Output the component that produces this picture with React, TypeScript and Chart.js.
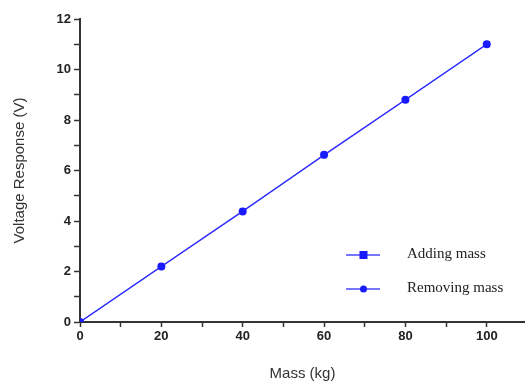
import React, { useEffect, useRef } from "react";
import { Chart, registerables } from "chart.js";

Chart.register(...registerables);

const massKg = [0, 20, 40, 60, 80, 100];
const addingMass = [0, 2.2, 4.4, 6.6, 8.8, 11.0];
const removingMass = [0, 2.2, 4.38, 6.62, 8.8, 11.0];
const xTickValues = [0, 10, 20, 30, 40, 50, 60, 70, 80, 90, 100];
const xLabelValues = [0, 20, 40, 60, 80, 100];
const seriesNames = ["Adding mass", "Removing mass"];
const xTitle = "Mass (kg)";
const yTitle = "Voltage Response (V)";

const BLUE = "#1a1aff";
const LINE = "rgba(40,40,255,0.85)";
const AXIS = "#333333";

const legendPlugin = {
  id: "insideLegend",
  afterDraw(chart: any) {
    const ctx = chart.ctx;
    const area = chart.chartArea;
    const x0 = area.left + 266;
    const ys = [area.bottom - 67, area.bottom - 33];
    const styles = ["rect", "circle"];
    ctx.save();
    for (let i = 0; i < seriesNames.length; i++) {
      const y = ys[i];
      ctx.strokeStyle = LINE;
      ctx.lineWidth = 1.5;
      ctx.beginPath();
      ctx.moveTo(x0, y);
      ctx.lineTo(x0 + 34, y);
      ctx.stroke();
      ctx.fillStyle = BLUE;
      if (styles[i] === "rect") {
        ctx.fillRect(x0 + 13.5, y - 4, 8, 8);
      } else {
        ctx.beginPath();
        ctx.arc(x0 + 17.5, y, 3.5, 0, Math.PI * 2);
        ctx.fill();
      }
      ctx.fillStyle = "#222";
      ctx.font = '15px "Liberation Serif", "Times New Roman", serif';
      ctx.textBaseline = "middle";
      ctx.textAlign = "left";
      ctx.fillText(seriesNames[i], x0 + 61, y - 1);
    }
    ctx.restore();
  },
};

export default function App() {
  const ref = useRef<HTMLCanvasElement>(null);
  useEffect(() => {
    document.body.style.margin = "0";
    const chart = new Chart(ref.current!, {
      type: "line",
      data: {
        labels: massKg,
        datasets: [
          {
            label: seriesNames[0],
            data: massKg.map((m, i) => ({ x: m, y: addingMass[i] })),
            borderColor: LINE,
            backgroundColor: BLUE,
            borderWidth: 1.2,
            pointStyle: "rect",
            pointRadius: 4,
            pointBorderWidth: 0,
          },
          {
            label: seriesNames[1],
            data: massKg.map((m, i) => ({ x: m, y: removingMass[i] })),
            borderColor: LINE,
            backgroundColor: BLUE,
            borderWidth: 1.2,
            pointStyle: "circle",
            pointRadius: 4,
            pointBorderWidth: 0,
          },
        ],
      },
      options: {
        animation: false,
        responsive: false,
        maintainAspectRatio: false,
        layout: { padding: { top: 19, right: 0, left: 0, bottom: 0 } },
        plugins: { legend: { display: false }, tooltip: { enabled: false } },
        scales: {
          x: {
            type: "linear",
            min: 0,
            max: 109.4,
            afterBuildTicks: (axis: any) => {
              axis.ticks = xTickValues.map((v) => ({ value: v }));
            },
            afterFit: (axis: any) => {
              axis.height = 61;
            },
            ticks: {
              autoSkip: false,
              maxRotation: 0,
              padding: 2,
              color: "#222",
              font: { family: "Liberation Sans, Arial, sans-serif", size: 13, weight: "bold" },
              callback: (v: any) => (xLabelValues.includes(Number(v)) ? String(v) : ""),
            },
            grid: { display: true, drawOnChartArea: false, drawTicks: true, tickLength: 5, tickColor: AXIS, tickWidth: 1.5 },
            border: { display: true, color: AXIS, width: 2 },
            title: {
              display: true,
              text: xTitle,
              color: "#333",
              font: { family: "Liberation Sans, Arial, sans-serif", size: 15 },
              padding: { top: 12, bottom: 0 },
            },
          },
          y: {
            type: "linear",
            min: 0,
            max: 12,
            afterFit: (axis: any) => {
              axis.width = 80;
            },
            ticks: {
              stepSize: 1,
              autoSkip: false,
              padding: 3,
              color: "#222",
              font: { family: "Liberation Sans, Arial, sans-serif", size: 13, weight: "bold" },
              callback: (v: any) => (Number(v) % 2 === 0 ? String(v) : ""),
            },
            grid: { display: true, drawOnChartArea: false, drawTicks: true, tickLength: 6, tickColor: AXIS, tickWidth: 1.5 },
            border: { display: true, color: AXIS, width: 2 },
            title: {
              display: true,
              text: yTitle,
              color: "#333",
              font: { family: "Liberation Sans, Arial, sans-serif", size: 15 },
              padding: { top: 11, bottom: 4 },
            },
          },
        },
      },
      plugins: [legendPlugin],
    } as any);
    return () => chart.destroy();
  }, []);
  return (
    <div style={{ position: "absolute", left: 0, top: 0, width: 525, height: 383, overflow: "hidden", background: "#fff" }}>
      <canvas ref={ref} width={529} height={383} />
    </div>
  );
}
